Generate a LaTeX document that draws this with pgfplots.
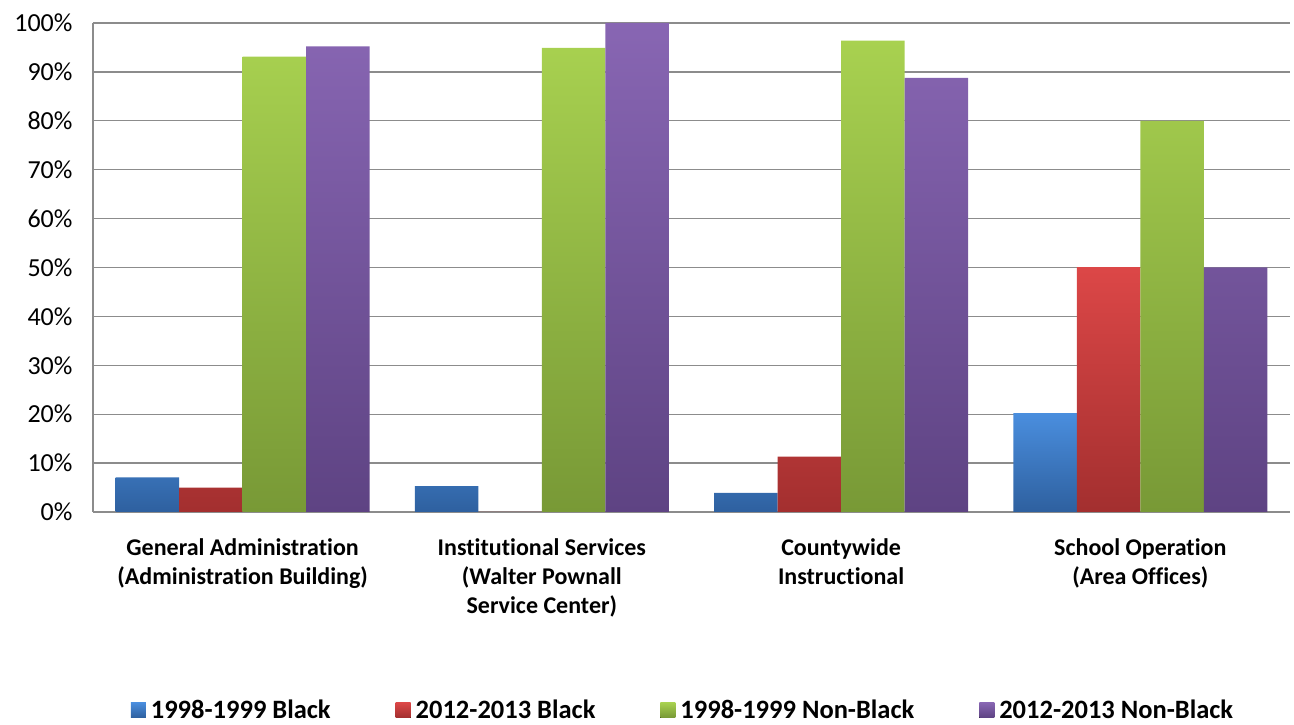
\documentclass[border=0pt]{standalone}
\usepackage{fontspec}
\setmainfont[Ligatures=NoCommon]{Carlito}
\usepackage{pgfplots}
\pgfplotsset{compat=1.18}
\definecolor{btop}{HTML}{4A8EDE}
\definecolor{bbot}{HTML}{2E609F}
\definecolor{rtop}{HTML}{DC4747}
\definecolor{rbot}{HTML}{A32F2F}
\definecolor{gtop}{HTML}{A8D150}
\definecolor{gbot}{HTML}{789936}
\definecolor{ptop}{HTML}{8866B3}
\definecolor{pbot}{HTML}{5E4383}
\definecolor{gridc}{HTML}{8C8C8C}
\begin{document}
\begin{tikzpicture}[x=1pt,y=1pt]
\begin{axis}[
  at={(0,0)}, anchor=south west,
  scale only axis, width=1197pt, height=489pt,
  ybar=0pt, bar width=63.5pt,
  xmin=-0.5, xmax=3.5, ymin=0, ymax=100,
  xtick={0,1,2,3}, xtick style={draw=none},
  xticklabels={{General Administration\\(Administration Building)},
               {Institutional Services\\(Walter Pownall\\Service Center)},
               {Countywide\\Instructional},
               {School Operation\\(Area Offices)}},
  xticklabel style={font=\fontsize{24}{28.8}\selectfont\bfseries, align=center, anchor=north, yshift=-19pt},
  ytick={0,10,...,100}, yticklabel={\pgfmathprintnumber{\tick}\%},
  yticklabel style={font=\fontsize{26}{30}\selectfont, anchor=east, xshift=-17pt},
  /pgf/number format/assume math mode=true,
  ytick style={draw=none},
  ymajorgrids, grid style={gridc, line width=1.3pt},
  axis x line*=bottom, axis y line*=left,
  axis line style={gridc, line width=1.3pt, -},
  legend style={draw=none, fill=none, at={(590pt,-198pt)}, anchor=center,
    font=\fontsize{26.5}{30}\selectfont\bfseries, legend cell align=left,
    /tikz/every odd column/.append style={column sep=3pt},
    /tikz/every even column/.append style={column sep=63pt}},
  legend columns=4,
  legend image code/.code={\fill[#1] (0pt,-7.5pt) rectangle (15pt,7.5pt);},
]
\addplot[draw=none, top color=btop, bottom color=bbot] coordinates {(0,7.1) (1,5.3) (2,3.9) (3,20.2)};
\addplot[draw=none, top color=rtop, bottom color=rbot] coordinates {(0,5.0) (1,0) (2,11.3) (3,50.1)};
\addplot[draw=none, top color=gtop, bottom color=gbot] coordinates {(0,93.1) (1,94.9) (2,96.4) (3,80.0)};
\addplot[draw=none, top color=ptop, bottom color=pbot] coordinates {(0,95.2) (1,100) (2,88.8) (3,50.0)};
\legend{1998-1999 Black, 2012-2013 Black, 1998-1999 Non-Black, 2012-2013 Non-Black}
\end{axis}
\path (-93pt,-209pt) rectangle (1201pt,512pt);
\end{tikzpicture}
\end{document}
